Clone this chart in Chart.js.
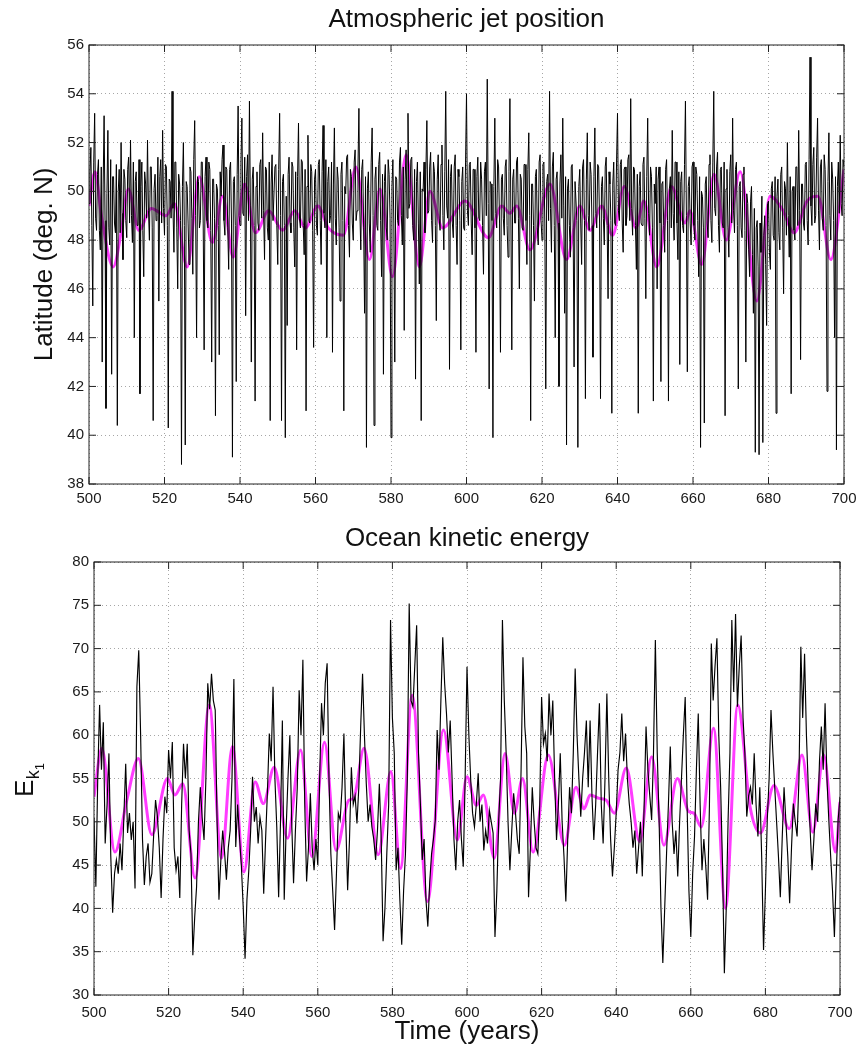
<!DOCTYPE html>
<html>
<head>
<meta charset="utf-8">
<script src="https://cdn.jsdelivr.net/npm/chart.js@4.4.1/dist/chart.umd.min.js"></script>
<style>
  body { margin: 0; background: #fff; }
  #wrap { position: relative; width: 858px; height: 1048px; background: #fff; }
  canvas { position: absolute; left: 0; }
</style>
</head>
<body>
<div id="wrap">
  <canvas id="jet" width="858" height="520" style="top:0"></canvas>
  <canvas id="ocean" width="858" height="528" style="top:520px"></canvas>
</div>
<script>
const startYear = 500

// jet latitude, one value every quarter year from 500 to 700
const jetStep = 0.25
const jetLatitude = [
  49.5, 50.8, 51.8, 48.6, 45.3, 51.2, 53.2, 48.9, 48.4, 50.7, 51.3, 48.4, 47.6, 51.0, 43.0, 50.3, 53.1, 48.8, 41.1, 49.9,
  52.5, 48.5, 47.8, 51.3, 42.5, 50.6, 50.6, 48.7, 48.3, 51.1, 40.4, 50.0, 50.9, 48.3, 52.0, 49.1, 47.2, 50.9, 50.5, 48.8,
  48.1, 50.9, 51.4, 48.7, 52.1, 49.0, 47.9, 51.2, 44.0, 50.4, 50.8, 48.6, 48.6, 51.3, 41.7, 50.2, 51.2, 48.4, 46.5, 50.8,
  50.3, 48.9, 52.1, 49.2, 48.0, 51.0, 51.0, 48.5, 40.6, 50.1, 50.7, 48.8, 49.0, 51.4, 45.5, 50.6, 51.3, 48.7, 52.5, 49.3,
  48.2, 51.1, 51.0, 48.6, 40.3, 50.5, 50.4, 48.9, 54.1, 49.3, 47.5, 51.2, 51.2, 48.5, 46.0, 50.7, 50.3, 48.8, 38.8, 50.2,
  52.0, 48.6, 39.6, 50.4, 50.2, 48.7, 47.0, 51.0, 50.8, 48.9, 46.6, 51.3, 52.9, 49.0, 44.0, 50.6, 50.4, 48.5, 48.8, 51.2,
  51.2, 48.7, 43.5, 50.6, 51.4, 48.8, 48.5, 51.2, 50.9, 48.4, 43.0, 50.5, 50.5, 48.9, 40.8, 50.3, 50.1, 48.6, 43.3, 50.8,
  49.8, 51.3, 51.9, 48.8, 48.2, 51.0, 50.9, 48.5, 46.8, 50.9, 51.2, 48.7, 39.1, 50.4, 50.6, 48.6, 42.2, 50.7, 53.5, 49.0,
  48.6, 51.2, 53.0, 49.1, 49.0, 51.4, 44.9, 50.6, 51.5, 48.8, 53.7, 49.4, 43.0, 50.5, 51.0, 48.6, 41.4, 50.2, 50.8, 48.7,
  48.4, 51.1, 51.3, 48.9, 52.4, 49.2, 47.2, 51.0, 50.9, 48.5, 48.0, 51.2, 40.6, 50.3, 51.5, 48.8, 48.8, 51.0, 51.1, 48.6,
  47.0, 50.9, 53.2, 49.0, 40.6, 50.4, 50.7, 48.6, 39.9, 49.8, 44.5, 50.7, 51.4, 48.7, 48.3, 51.2, 51.0, 48.5, 46.9, 50.8,
  43.5, 50.6, 52.8, 48.9, 48.5, 51.3, 51.2, 48.6, 47.4, 50.9, 41.0, 50.2, 52.3, 48.8, 48.7, 51.1, 50.8, 48.4, 43.6, 50.5,
  50.9, 48.6, 48.2, 51.1, 51.3, 48.8, 47.0, 50.8, 52.7, 49.1, 48.5, 51.3, 44.0, 50.4, 51.0, 48.7, 49.0, 51.2, 43.4, 50.3,
  52.6, 48.9, 47.8, 51.0, 50.5, 48.5, 45.5, 50.7, 51.2, 48.8, 41.0, 50.2, 49.9, 51.4, 51.5, 48.6, 47.3, 50.9, 50.6, 48.7,
  48.0, 51.2, 51.7, 48.8, 49.2, 51.0, 53.4, 49.2, 47.6, 50.9, 51.3, 48.5, 45.0, 50.6, 39.5, 50.1, 50.8, 48.7, 47.5, 51.2,
  52.6, 49.0, 40.4, 50.5, 51.0, 48.6, 48.4, 51.1, 51.6, 48.8, 46.5, 50.7, 42.5, 50.4, 51.1, 48.5, 48.0, 51.3, 50.7, 48.9,
  39.9, 50.2, 51.3, 48.7, 43.0, 50.6, 50.5, 48.8, 48.6, 51.2, 51.8, 49.0, 47.8, 51.0, 44.3, 50.5, 51.7, 48.9, 53.2, 49.3,
  49.5, 51.3, 51.4, 48.6, 48.0, 50.9, 42.3, 50.4, 51.2, 48.7, 46.2, 50.8, 40.6, 50.1, 50.0, 51.2, 48.3, 50.9, 52.9, 49.1,
  49.2, 51.0, 51.6, 48.8, 47.9, 51.2, 50.8, 48.6, 44.7, 50.5, 51.5, 48.9, 48.4, 51.1, 51.9, 49.0, 47.6, 50.8, 54.1, 49.4,
  48.9, 51.3, 42.7, 50.6, 51.1, 48.7, 48.1, 51.0, 51.5, 48.6, 47.0, 50.9, 50.6, 48.8, 43.5, 50.4, 51.0, 48.5, 48.4, 51.2,
  54.0, 49.2, 48.6, 51.1, 51.2, 48.7, 47.4, 50.9, 50.9, 48.5, 43.4, 50.6, 51.4, 48.9, 48.8, 51.2, 50.5, 48.6, 46.6, 50.8,
  51.2, 49.0, 54.6, 49.5, 41.9, 50.4, 50.3, 48.8, 39.9, 50.2, 53.0, 49.1, 48.5, 51.3, 51.0, 48.7, 43.4, 50.5, 50.7, 48.9,
  48.2, 51.0, 51.3, 48.6, 47.3, 50.8, 53.8, 49.2, 43.5, 50.5, 50.9, 48.7, 48.7, 51.2, 51.4, 48.9, 46.0, 50.7, 50.5, 48.5,
  48.4, 51.1, 51.1, 48.8, 47.0, 50.9, 52.4, 49.0, 40.6, 50.3, 50.3, 48.6, 45.5, 50.6, 50.9, 48.5, 47.8, 51.2, 51.5, 48.8,
  48.0, 51.1, 51.2, 48.7, 41.9, 50.4, 50.7, 48.8, 54.1, 49.3, 47.5, 51.0, 51.6, 48.6, 44.0, 50.5, 50.8, 48.7, 42.0, 50.3,
  51.5, 48.9, 53.0, 49.4, 45.0, 50.6, 39.6, 50.1, 50.5, 48.6, 47.3, 51.0, 51.1, 48.5, 42.8, 50.4, 50.4, 48.8, 39.5, 50.2,
  50.9, 48.7, 47.0, 51.0, 51.3, 48.8, 41.5, 50.5, 52.4, 49.0, 48.4, 51.2, 50.7, 48.6, 43.2, 50.6, 52.6, 49.1, 48.5, 51.1,
  51.0, 48.7, 41.5, 50.2, 50.6, 48.9, 47.8, 51.0, 51.4, 48.6, 45.6, 50.8, 50.3, 48.8, 40.9, 50.3, 51.2, 48.7, 48.6, 51.2,
  53.2, 49.2, 48.8, 51.1, 51.3, 48.7, 47.5, 50.9, 51.0, 48.6, 49.0, 51.3, 51.5, 48.8, 53.8, 49.3, 48.2, 51.0, 50.9, 48.6,
  46.8, 50.7, 40.9, 50.2, 50.8, 48.7, 48.6, 51.1, 51.4, 48.9, 45.6, 50.6, 53.0, 49.1, 48.2, 51.0, 50.6, 48.5, 41.4, 50.3,
  49.5, 51.0, 46.0, 50.5, 51.0, 48.7, 42.2, 50.3, 50.4, 48.6, 47.5, 50.9, 51.3, 48.8, 41.4, 50.1, 50.6, 48.5, 52.5, 49.1,
  48.0, 51.2, 51.2, 48.7, 47.2, 50.8, 42.9, 50.4, 50.8, 48.6, 48.3, 51.1, 53.7, 49.0, 42.6, 50.2, 50.6, 48.7, 47.8, 51.0,
  51.2, 48.6, 48.0, 51.0, 50.7, 48.8, 46.5, 50.6, 39.5, 50.0, 49.8, 48.5, 40.5, 50.3, 50.6, 48.7, 48.1, 51.1, 51.5, 48.8,
  47.9, 51.2, 54.1, 49.3, 49.0, 51.0, 51.6, 48.6, 47.5, 50.9, 51.0, 48.7, 48.5, 51.2, 40.8, 50.1, 50.9, 48.5, 47.3, 50.8,
  51.5, 48.7, 53.0, 49.2, 48.3, 50.9, 51.2, 48.6, 41.9, 50.2, 50.4, 48.5, 48.1, 50.7, 51.0, 48.4, 43.0, 49.9, 49.5, 47.6,
  46.5, 49.6, 50.2, 47.4, 45.0, 49.3, 39.3, 48.5, 48.8, 46.9, 39.2, 48.7, 47.5, 49.8, 39.7, 48.2, 49.0, 47.0, 44.5, 49.5,
  49.6, 47.5, 46.8, 50.1, 50.4, 48.2, 48.0, 50.6, 40.9, 49.8, 50.5, 48.3, 47.6, 50.7, 51.0, 48.5, 45.8, 50.4, 50.1, 48.2,
  52.0, 49.0, 47.3, 50.6, 41.7, 50.0, 50.2, 48.4, 48.0, 51.0, 51.0, 48.6, 52.5, 49.2, 43.1, 50.3, 50.3, 48.7, 48.4, 51.1,
  51.2, 48.8, 47.8, 51.3, 55.5, 49.4, 48.6, 51.1, 51.8, 48.7, 49.0, 51.4, 53.0, 49.2, 47.6, 51.0, 51.3, 48.9, 48.4, 51.5,
  50.9, 48.6, 41.8, 50.4, 52.4, 49.0, 48.0, 51.2, 50.5, 48.8, 44.0, 50.6, 39.4, 50.2, 51.2, 49.1, 52.3, 49.5, 49.0, 51.3,
  51.0,
]

// ocean kinetic energy, one value every half year from 500 to 700
const oceanStep = 0.5
const oceanEnergy = [
  50.5, 42.5, 55.0, 63.5, 56.0, 61.5, 47.5, 52.0, 57.9, 46.0, 39.5, 44.0, 45.6, 44.0, 47.5, 44.4, 50.5, 56.7, 48.7, 51.0,
  47.9, 50.0, 42.3, 65.6, 69.8, 60.0, 48.0, 42.7, 46.0, 47.5, 43.0, 44.0, 48.5, 52.5, 50.6, 47.0, 41.2, 48.0, 52.9, 51.0,
  58.3, 55.0, 59.2, 47.0, 44.4, 46.0, 41.2, 52.0, 59.0, 55.0, 59.0, 49.0, 46.3, 34.6, 39.0, 42.5, 50.0, 54.0, 50.5, 47.9,
  55.0, 66.0, 63.0, 67.1, 64.0, 62.9, 50.0, 41.0, 45.5, 49.0, 46.5, 43.3, 47.0, 49.0, 55.0, 66.5, 47.1, 52.0, 48.3, 45.0,
  40.2, 34.2, 41.0, 44.4, 49.0, 55.2, 50.0, 51.7, 47.5, 50.5, 49.0, 41.7, 48.0, 53.5, 60.2, 57.0, 65.6, 55.0, 49.4, 41.3,
  50.0, 61.7, 41.0, 49.0, 55.0, 60.0, 50.0, 42.9, 49.0, 54.0, 65.2, 60.0, 68.7, 52.0, 43.1, 47.0, 53.3, 47.0, 44.4, 48.0,
  45.0, 55.0, 63.7, 60.0, 66.0, 68.3, 55.0, 46.3, 42.0, 37.5, 44.0, 51.0, 50.2, 54.0, 60.2, 50.0, 42.1, 48.0, 56.3, 52.0,
  53.0, 49.8, 54.0, 61.0, 67.1, 60.0, 54.4, 50.0, 52.0, 49.4, 48.0, 45.6, 49.0, 54.4, 48.0, 36.2, 40.0, 46.3, 52.0, 73.3,
  62.0, 57.9, 44.4, 47.0, 41.0, 35.8, 42.0, 46.3, 55.0, 75.2, 64.0, 63.3, 68.0, 72.7, 58.0, 52.1, 45.6, 48.0, 41.0, 37.9,
  43.0, 46.3, 48.0, 50.2, 60.6, 56.0, 64.0, 71.3, 66.0, 62.5, 58.0, 61.7, 55.0, 48.0, 44.4, 50.0, 52.5, 48.0, 44.8, 55.0,
  67.9, 60.0, 54.8, 51.0, 49.4, 52.0, 55.6, 50.0, 52.0, 46.7, 49.0, 47.5, 51.3, 50.0, 48.7, 36.7, 42.0, 50.2, 55.0, 73.3,
  64.0, 57.9, 50.0, 44.4, 49.0, 53.3, 51.0, 48.0, 46.3, 56.0, 69.0, 61.0, 57.9, 41.3, 47.0, 54.0, 50.0, 47.0, 46.3, 52.0,
  64.4, 59.0, 60.2, 57.0, 64.8, 60.0, 64.0, 55.0, 47.9, 52.0, 57.9, 50.0, 46.0, 40.8, 48.0, 54.0, 51.0, 58.0, 67.7, 60.0,
  55.0, 50.6, 55.0, 58.0, 61.7, 54.0, 61.7, 53.0, 47.9, 52.0, 58.0, 63.7, 52.0, 47.5, 55.0, 64.8, 55.0, 48.0, 43.7, 47.0,
  51.0, 56.0, 58.0, 62.5, 57.0, 60.2, 55.0, 52.1, 50.0, 47.0, 49.0, 44.0, 47.0, 50.0, 43.7, 52.0, 61.0, 56.0, 53.0, 50.2,
  58.0, 71.0, 58.0, 50.2, 40.0, 33.7, 40.0, 46.3, 52.0, 58.7, 50.0, 46.3, 49.0, 43.7, 50.0, 55.0, 60.0, 64.4, 52.0, 42.0,
  36.7, 44.0, 48.3, 56.0, 62.5, 52.0, 44.4, 48.0, 45.0, 41.0, 52.0, 70.6, 64.0, 68.0, 71.2, 60.0, 54.0, 45.0, 32.5, 40.0,
  50.2, 58.0, 73.3, 65.0, 74.0, 63.3, 68.0, 71.5, 62.0, 57.9, 50.6, 53.0, 54.0, 52.0, 57.9, 52.0, 48.3, 54.0, 46.0, 35.2,
  42.0, 50.2, 55.0, 62.9, 58.0, 54.0, 50.0, 46.0, 41.3, 48.0, 54.0, 50.0, 46.0, 40.6, 47.0, 52.1, 50.0, 48.3, 55.0, 70.2,
  62.0, 69.4, 60.0, 54.0, 49.0, 44.4, 48.0, 52.1, 50.0, 57.0, 61.0, 56.0, 63.7, 55.0, 50.2, 46.0, 42.0, 36.7, 44.0, 50.2,
  52.9,
]

// low-pass filtered curves (magenta), read at their turning points
const jetSmoothYears = [500, 501.6, 503.3, 506.4, 508.6, 510.4, 513.2, 516.5, 520.4, 522.6, 526, 529.2, 532.7, 535.4, 538.2, 541.2,
  544.1, 547.6, 551.3, 554.5, 557.3, 560.6, 563.4, 567.4, 570.7, 574.3, 577.1, 580.4, 584, 587.5, 590.3, 593.7, 599.6, 605.8,
  609.3, 611.5, 613.3, 616.8, 622.1, 626.5, 630, 632.7, 635.8, 638.7, 641.8, 644.9, 647, 650.4, 654.3, 657.9, 659.2, 662.3,
  665.6, 668.8, 672.5, 676.9, 680.4, 683.5, 686.8, 690.2, 693.1, 696.5, 700]
const jetSmoothLat = [49.4, 50.8, 49.0, 46.9, 48.4, 50.1, 48.4, 49.3, 49.0, 49.5, 46.9, 50.6, 47.9, 49.8, 47.3, 50.3,
  48.3, 49.2, 48.4, 49.2, 48.5, 49.4, 48.5, 48.2, 51.0, 47.2, 50.1, 46.5, 51.5, 46.9, 50.0, 48.5, 49.6, 48.1,
  49.4, 49.1, 49.4, 47.6, 50.3, 47.2, 49.4, 48.4, 49.4, 48.2, 50.2, 48.5, 49.6, 46.9, 50.2, 48.7, 49.2, 47.0,
  50.7, 48.0, 50.8, 45.5, 49.8, 49.3, 48.3, 49.6, 49.8, 47.2, 50.9]

const oceanSmoothYears = [500, 502.1, 505.6, 508.8, 511.9, 515.5, 519.7, 521.7, 523.8, 527.1, 530.9, 534.2, 537.1, 540.2, 543.2,
  545.4, 548.3, 551.9, 555.4, 558.4, 561.8, 564.9, 568.3, 569.6, 572.4, 576.2, 579.6, 582.2, 585.3, 589.4, 593.7, 597.4, 600,
  602.5, 604.4, 607.3, 610.2, 612.7, 614.9, 617.7, 621.8, 626.1, 629.2, 631.4, 633, 635.5, 637.3, 639.5, 642.7, 646.3, 649.5,
  652.8, 656.4, 659.4, 660.8, 662.8, 666.1, 669.3, 672.6, 675.9, 678.7, 682.3, 686.4, 689.8, 692.7, 695.6, 698.8, 700]
const oceanSmoothEnergy = [52.9, 58.5, 46.5, 52.5, 57.3, 48.5, 55.0, 53.1, 54.4, 43.5, 63.5, 45.8, 58.7, 44.2, 54.6,
  52.1, 56.3, 48.1, 58.3, 46.0, 59.2, 46.7, 52.5, 52.7, 58.5, 46.2, 55.8, 44.6, 64.6, 40.8, 60.6, 47.9, 55.2,
  51.9, 53.1, 45.8, 57.9, 51.0, 55.0, 46.5, 57.7, 47.3, 54.0, 51.5, 53.1, 52.7, 52.5, 51.0, 56.2, 47.7, 57.5,
  47.3, 55.0, 51.2, 51.0, 49.4, 60.8, 40.0, 63.5, 51.7, 48.7, 54.2, 49.2, 57.7, 48.8, 57.7, 46.5, 52.3]

const timeTicks = [500, 520, 540, 560, 580, 600, 620, 640, 660, 680, 700]
const latTicks = [38, 40, 42, 44, 46, 48, 50, 52, 54, 56]
const energyTicks = [30, 35, 40, 45, 50, 55, 60, 65, 70, 75, 80]

Chart.defaults.font.family = '"Liberation Sans", Arial, Helvetica, sans-serif'
Chart.defaults.color = '#1a1a1a'

const rawPoints = (vals, step) => vals.map((v, i) => ({x : startYear + i * step, y : v}))
const curvePoints = (xs, ys) => xs.map((x, i) => ({x : x, y : ys[i]}))

// matlab style box with inward ticks on all four sides
const boxPlugin = {
    id : "matlabBox",
    afterDatasetsDraw(chart) {
        const {ctx, chartArea : {left, right, top, bottom}, scales : {x, y}} = chart
        ctx.save()
        ctx.strokeStyle = "#222"
        ctx.lineWidth = 1
        ctx.strokeRect(left, top, right - left, bottom - top)
        const len = 7
        ctx.beginPath()
        x.ticks.forEach(t => {
            const px = x.getPixelForValue(t.value)
            ctx.moveTo(px, bottom); ctx.lineTo(px, bottom - len)
            ctx.moveTo(px, top); ctx.lineTo(px, top + len)
        })
        y.ticks.forEach(t => {
            const py = y.getPixelForValue(t.value)
            ctx.moveTo(left, py); ctx.lineTo(left + len, py)
            ctx.moveTo(right, py); ctx.lineTo(right - len, py)
        })
        ctx.stroke()
        ctx.restore()
    },
}

// E with k subscript and 1 sub-subscript, rotated like the axis label
const ekLabel = {
    id : "ekLabel",
    afterDraw(chart) {
        const {ctx} = chart
        ctx.save()
        ctx.translate(33, 277)
        ctx.rotate(-Math.PI / 2)
        ctx.fillStyle = "#111"
        ctx.textBaseline = "alphabetic"
        ctx.font = '26px "Liberation Sans", Arial, sans-serif'
        ctx.fillText("E", 0, 0)
        const w = ctx.measureText("E").width
        ctx.font = '18px "Liberation Sans", Arial, sans-serif'
        ctx.fillText("k", w + 0.5, 6)
        const kw = ctx.measureText("k").width
        ctx.font = '13px "Liberation Sans", Arial, sans-serif'
        ctx.fillText("1", w + kw + 0.5, 11)
        ctx.restore()
    },
}

const gridStyle = {color : "rgba(0,0,0,0.35)", lineWidth : 1, drawTicks : false}
const borderStyle = {display : false, dash : [1, 3]}
const tickFont = {size : 15}

function makeChart(canvasId, cfg) {
    return new Chart(document.getElementById(canvasId).getContext("2d"), {
        type : "line",
        data : {
            datasets : [{
                data : rawPoints(cfg.raw, cfg.step),
                borderColor : "#000",
                borderWidth : cfg.rawWidth,
                pointRadius : 0,
                tension : 0,
            }, {
                data : curvePoints(cfg.smoothX, cfg.smoothY),
                borderColor : "#ff3cff",
                borderWidth : 3,
                pointRadius : 0,
                cubicInterpolationMode : "monotone",
            }],
        }, options : {
            responsive : false,
            animation : false,
            layout : {padding : cfg.padding},
            scales : {
                x : {
                    type : "linear",
                    min : 500,
                    max : 700,
                    afterBuildTicks : s => { s.ticks = timeTicks.map(v => ({value : v})) },
                    afterFit : s => {
                        s.height = cfg.xHeight
                        s.paddingLeft = 0
                        s.paddingRight = 0
                    },
                    ticks : {font : tickFont, padding : cfg.xTickPad, maxRotation : 0},
                    grid : gridStyle,
                    border : borderStyle,
                    title : cfg.xTitle,
                },
                y : {
                    min : cfg.yMin,
                    max : cfg.yMax,
                    afterBuildTicks : s => { s.ticks = cfg.yTicks.map(v => ({value : v})) },
                    afterFit : s => { s.width = cfg.yWidth },
                    ticks : {font : tickFont, padding : 5},
                    grid : gridStyle,
                    border : borderStyle,
                    title : cfg.yTitle,
                },
            }, plugins : {
                legend : {display : false},
                tooltip : {enabled : false},
                title : {
                    display : true,
                    text : cfg.title,
                    fullSize : false,
                    color : "#111",
                    font : {size : 26, weight : "normal"},
                    padding : cfg.titlePadding,
                },
            },
        },
        plugins : cfg.plugins,
    })
}

const jetChart = makeChart("jet", {
    raw : jetLatitude,
    step : jetStep,
    rawWidth : 1,
    smoothX : jetSmoothYears,
    smoothY : jetSmoothLat,
    yMin : 38, yMax : 56, yTicks : latTicks,
    yWidth : 89, xHeight : 30, xTickPad : 6,
    padding : {left : 0, right : 14, top : 0, bottom : 6},
    title : "Atmospheric jet position",
    titlePadding : {top : 4, bottom : 9.8},
    xTitle : {display : false},
    yTitle : {display : true, text : "Latitude (deg. N)", color : "#111", font : {size : 26}, padding : {top : 29, bottom : 0}},
    plugins : [boxPlugin],
})

const oceanChart = makeChart("ocean", {
    raw : oceanEnergy,
    step : oceanStep,
    rawWidth : 1.15,
    smoothX : oceanSmoothYears,
    smoothY : oceanSmoothEnergy,
    yMin : 30, yMax : 80, yTicks : energyTicks,
    yWidth : 94, xHeight : 53, xTickPad : 9,
    padding : {left : 0, right : 18, top : 0, bottom : 0},
    title : "Ocean kinetic energy",
    titlePadding : {top : 3, bottom : 7.8},
    xTitle : {display : true, text : "Time (years)", color : "#111", font : {size : 26}, padding : {top : 0, bottom : 0.5}},
    yTitle : {display : false},
    plugins : [boxPlugin, ekLabel],
})
</script>
</body>
</html>
